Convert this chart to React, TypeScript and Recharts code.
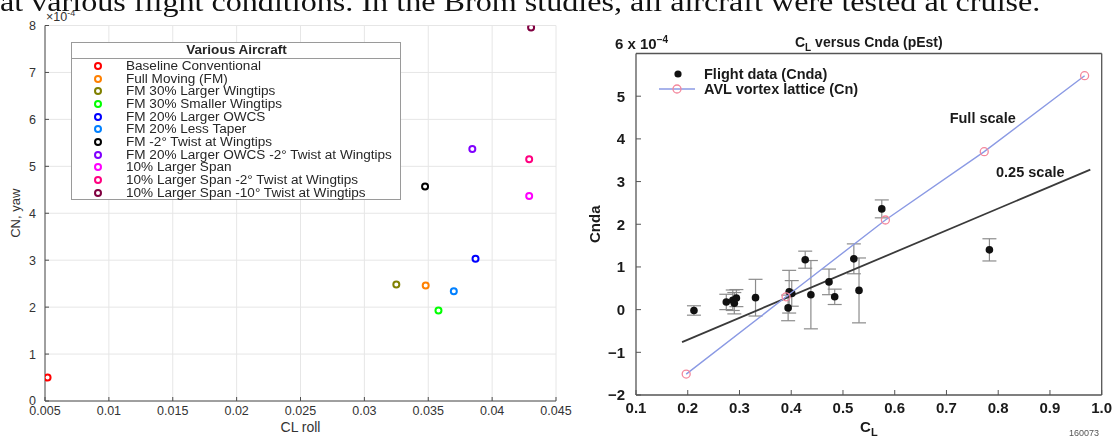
import React from "react";
import {
  CartesianGrid,
  ErrorBar,
  Legend,
  Scatter,
  ScatterChart,
  XAxis,
  YAxis,
} from "recharts";

const caption =
  "at various flight conditions. In the Brom studies, all aircraft were tested at cruise.";

// Left panel: roll vs yaw control power per configuration (CN in units of 1e-4)
const aircraftNames = [
  "Baseline Conventional",
  "Full Moving (FM)",
  "FM 30% Larger Wingtips",
  "FM 30% Smaller Wingtips",
  "FM 20% Larger OWCS",
  "FM 20% Less Taper",
  "FM -2° Twist at Wingtips",
  "FM 20% Larger OWCS -2° Twist at Wingtips",
  "10% Larger Span",
  "10% Larger Span -2° Twist at Wingtips",
  "10% Larger Span -10° Twist at Wingtips",
];
const clRoll = [0.0052, 0.0348, 0.0325, 0.0358, 0.0387, 0.037, 0.03475, 0.03845, 0.0429, 0.0429, 0.04305];
const cnYaw = [0.5, 2.46, 2.48, 1.93, 3.03, 2.34, 4.57, 5.37, 4.37, 5.15, 7.96];
const aircraftColors = [
  "#ff0000", "#ff8000", "#808000", "#00ff00", "#0000ff", "#0080ff",
  "#000000", "#8000ff", "#ff00ff", "#ff0080", "#800040",
];
const rollTicks = [0.005, 0.01, 0.015, 0.02, 0.025, 0.03, 0.035, 0.04, 0.045];
const yawTicks = [0, 1, 2, 3, 4, 5, 6, 7, 8];

// Right panel: CL versus Cnda (pEst), Cnda in units of 1e-4
const flightCL = [0.212, 0.2745, 0.287, 0.29, 0.294, 0.331, 0.394, 0.396, 0.401, 0.427, 0.438, 0.473, 0.484, 0.521, 0.531, 0.575, 0.783];
const flightCnda = [-0.02, 0.18, 0.22, 0.15, 0.27, 0.28, 0.04, 0.42, 0.38, 1.17, 0.35, 0.65, 0.3, 1.19, 0.45, 2.36, 1.4];
const flightErr = [0.11, 0.18, 0.24, 0.25, 0.2, 0.43, 0.3, 0.5, 0.3, 0.2, 0.8, 0.3, 0.18, 0.35, 0.76, 0.21, 0.26];
const avlCL = [0.197, 0.39, 0.582, 0.773, 0.967];
const avlCn = [-1.51, 0.3, 2.1, 3.7, 5.48];
const quarterCL = [0.189, 0.978];
const quarterCn = [-0.76, 3.28];
const noteCL = [0.77, 0.862];
const noteCn = [4.5, 3.22];
const noteText = ["Full scale", "0.25 scale"];
const clTicks = [0.1, 0.2, 0.3, 0.4, 0.5, 0.6, 0.7, 0.8, 0.9, 1.0];
const cndaTicks = [-2, -1, 0, 1, 2, 3, 4, 5, 6];
const flightLegendOrder = ["Flight data (Cnda)", "AVL vortex lattice (Cn)"];

const flightData = flightCL.map((x, i) => ({ x, y: flightCnda[i], err: flightErr[i] }));
const avlData = avlCL.map((x, i) => ({ x, y: avlCn[i] }));
const quarterData = quarterCL.map((x, i) => ({ x, y: quarterCn[i] }));
const noteData = noteCL.map((x, i) => ({ x, y: noteCn[i], label: noteText[i] }));

const SANS = '"Liberation Sans", Arial, Helvetica, sans-serif';
const MAT_TEXT = "#333";
const MAT_AXIS = "#4d4d4d";
const FRAME = "#555";

const ring = (color: string) => (p: any) => (
  <circle cx={p.cx} cy={p.cy} r={3} fill="#fff" stroke={color} strokeWidth={2} />
);

// keep legend rows in series order (recharts sorts by name otherwise)
const inOrder = (payload: any[] | undefined, order: string[]) =>
  order.map((name) => (payload || []).find((p: any) => p.value === name)).filter(Boolean);

const wide: React.CSSProperties = {
  display: "inline-block",
  transform: "scaleX(1.13)",
  transformOrigin: "left center",
};

const AircraftLegend = (props: any) => (
  <div
    style={{
      width: 330,
      height: 158,
      boxSizing: "border-box",
      border: "1px solid #9a9a9a",
      background: "#fff",
      fontFamily: SANS,
      fontSize: 12,
      color: "#262626",
    }}
  >
    <div
      style={{
        height: 15,
        lineHeight: "15px",
        textAlign: "center",
        fontWeight: 700,
        borderBottom: "1px solid #9a9a9a",
      }}
    >
      <span style={{ ...wide, transformOrigin: "center center" }}>Various Aircraft</span>
    </div>
    <div style={{ paddingTop: 1 }}>
      {inOrder(props.payload, aircraftNames).map((entry: any) => (
        <div
          key={entry.value}
          style={{ display: "flex", alignItems: "center", height: 12.7, whiteSpace: "nowrap" }}
        >
          <svg width={10} height={10} style={{ marginLeft: 20.5, marginRight: 23.5 }}>
            <circle cx={5} cy={5} r={3} fill="#fff" stroke={entry.color} strokeWidth={2} />
          </svg>
          <span style={wide}>{entry.value}</span>
        </div>
      ))}
    </div>
  </div>
);

const FlightLegend = (props: any) => (
  <div style={{ fontFamily: SANS, fontSize: 14.5, fontWeight: 700, color: "#1a1a1a" }}>
    {inOrder(props.payload, flightLegendOrder).map((entry: any) => (
      <div key={entry.value} style={{ display: "flex", alignItems: "center", height: 14.4 }}>
        <svg width={38} height={12} style={{ marginRight: 7 }}>
          {entry.type === "line" ? (
            <>
              <line x1={0} y1={6} x2={36} y2={6} stroke="#8b9ae4" strokeWidth={1.4} />
              <circle cx={18} cy={6} r={4} fill="none" stroke="#f4879c" strokeWidth={1.3} />
            </>
          ) : (
            <circle cx={19} cy={6} r={3.6} fill="#111" />
          )}
        </svg>
        <span>{entry.value}</span>
      </div>
    ))}
  </div>
);

const TitleLabel = (props: any) => {
  const vb = props.viewBox;
  return (
    <text x={vb.x + vb.width / 2} y={47} textAnchor="middle" fontSize={14} fontWeight={700} fill="#1a1a1a">
      <tspan>C</tspan>
      <tspan dy={4} fontSize={10}>L</tspan>
      <tspan dy={-4}>{"  versus Cnda (pEst)"}</tspan>
    </text>
  );
};

const ClLabel = (props: any) => {
  const vb = props.viewBox;
  return (
    <text x={vb.x + vb.width / 2} y={432} textAnchor="middle" fontSize={15} fontWeight={700} fill="#1a1a1a">
      <tspan>C</tspan>
      <tspan dy={4} fontSize={11}>L</tspan>
    </text>
  );
};

const noteShape = (p: any) => (
  <text x={p.cx} y={p.cy} textAnchor="middle" dominantBaseline="central" fontSize={14.5} fontWeight={700} fill="#1a1a1a">
    {p.payload.label}
  </text>
);

const cndaFormat = (v: number) => (v === 6 ? "" : v < 0 ? `\u2212${-v}` : String(v));

export default function App() {
  return (
    <div
      style={{
        position: "absolute",
        left: 0,
        top: 0,
        width: 1115,
        height: 437,
        overflow: "hidden",
        background: "#fff",
        fontFamily: SANS,
      }}
    >
      <div
        style={{
          position: "absolute",
          left: 0,
          top: -13,
          whiteSpace: "nowrap",
          fontFamily: '"Liberation Serif", "Times New Roman", serif',
          fontSize: 27,
          lineHeight: "30px",
          color: "#111",
          transform: "scaleX(1.19)",
          transformOrigin: "left top",
        }}
      >
        {caption}
      </div>

      {/* left: CL roll vs CN yaw */}
      <div style={{ position: "absolute", left: 0, top: 0 }}>
        <ScatterChart width={580} height={437} margin={{ top: 25.5, right: 24, bottom: 0, left: 0 }}>
          <CartesianGrid stroke="#e6e6e6" fill="none" />
          <XAxis
            type="number"
            dataKey="x"
            domain={[0.005, 0.045]}
            ticks={rollTicks}
            allowDataOverflow
            height={36}
            tickSize={-4}
            tickMargin={9}
            axisLine={{ stroke: MAT_AXIS }}
            tickLine={{ stroke: MAT_AXIS }}
            tick={{ fill: MAT_TEXT, fontSize: 12.5 }}
            tickFormatter={(v: number) => String(v)}
            label={{ value: "CL roll", position: "insideBottom", offset: 5, fill: MAT_TEXT, fontSize: 14 }}
          />
          <YAxis
            type="number"
            dataKey="y"
            domain={[0, 8]}
            ticks={yawTicks}
            allowDataOverflow
            width={45}
            tickSize={-4}
            tickMargin={13}
            axisLine={{ stroke: MAT_AXIS }}
            tickLine={{ stroke: MAT_AXIS }}
            tick={{ fill: MAT_TEXT, fontSize: 12.5 }}
            label={{
              value: "CN, yaw",
              angle: -90,
              position: "insideLeft",
              offset: 15,
              fill: MAT_TEXT,
              fontSize: 13,
              style: { textAnchor: "middle" },
            }}
          />
          <Legend
            layout="vertical"
            align="center"
            verticalAlign="middle"
            content={AircraftLegend}
            wrapperStyle={{ left: 71, top: 41.5, width: 330 }}
          />
          {aircraftNames.map((name, i) => (
            <Scatter
              key={name}
              name={name}
              data={[{ x: clRoll[i], y: cnYaw[i] }]}
              fill={aircraftColors[i]}
              shape={ring(aircraftColors[i])}
              isAnimationActive={false}
            />
          ))}
        </ScatterChart>
        <div style={{ position: "absolute", left: 46, top: 10, fontSize: 12.5, color: MAT_TEXT, lineHeight: "14px" }}>
          ×10<span style={{ fontSize: 9, position: "relative", top: -5 }}>-4</span>
        </div>
      </div>

      {/* right: CL versus Cnda */}
      <div style={{ position: "absolute", left: 580, top: 0, width: 535, height: 437, overflow: "hidden" }}>
        <div style={{ position: "absolute", left: -20, top: 0, filter: "blur(0.7px)" }}>
          <ScatterChart width={555} height={437} margin={{ top: 52.5, right: 12.3, bottom: 1, left: 0 }}>
            <XAxis
              xAxisId="b"
              type="number"
              dataKey="x"
              domain={[0.1, 1]}
              ticks={clTicks}
              allowDataOverflow
              height={41}
              tickSize={-5}
              tickMargin={12}
              axisLine={{ stroke: FRAME, strokeWidth: 1.3 }}
              tickLine={{ stroke: FRAME }}
              tick={{ fill: "#1a1a1a", fontSize: 15, fontWeight: 700 }}
              tickFormatter={(v: number) => v.toFixed(1)}
              label={<ClLabel />}
            />
            <XAxis
              xAxisId="t"
              orientation="top"
              type="number"
              dataKey="x"
              domain={[0.1, 1]}
              ticks={clTicks}
              allowDataOverflow
              height={1}
              tickSize={-5}
              tick={false}
              axisLine={{ stroke: FRAME, strokeWidth: 1.3 }}
              tickLine={{ stroke: FRAME }}
              label={<TitleLabel />}
            />
            <YAxis
              yAxisId="l"
              type="number"
              dataKey="y"
              domain={[-2, 6]}
              ticks={cndaTicks}
              allowDataOverflow
              width={76}
              tickSize={-5}
              tickMargin={16}
              axisLine={{ stroke: FRAME, strokeWidth: 1.3 }}
              tickLine={{ stroke: FRAME }}
              tick={{ fill: "#1a1a1a", fontSize: 15, fontWeight: 700 }}
              tickFormatter={cndaFormat}
              label={{
                value: "Cnda",
                angle: -90,
                position: "insideLeft",
                offset: 35,
                fill: "#1a1a1a",
                fontSize: 15,
                fontWeight: 700,
                style: { textAnchor: "middle" },
              }}
            />
            <YAxis
              yAxisId="r"
              orientation="right"
              type="number"
              dataKey="y"
              domain={[-2, 6]}
              ticks={cndaTicks}
              allowDataOverflow
              width={1}
              tickSize={-5}
              tick={false}
              axisLine={{ stroke: FRAME, strokeWidth: 1.3 }}
              tickLine={{ stroke: FRAME }}
            />
            <Legend
              layout="vertical"
              align="center"
              verticalAlign="middle"
              content={FlightLegend}
              wrapperStyle={{ left: 99, top: 67, width: 260 }}
            />
            <Scatter
              name="0.25 scale"
              xAxisId="b"
              yAxisId="l"
              data={quarterData}
              line={{ stroke: "#3a3a3a", strokeWidth: 1.8 }}
              shape={() => <g />}
              legendType="none"
              isAnimationActive={false}
            />
            <Scatter
              name="Flight data (Cnda)"
              xAxisId="b"
              yAxisId="l"
              data={flightData}
              fill="#111"
              legendType="circle"
              shape={(p: any) => <circle cx={p.cx} cy={p.cy} r={3.8} fill="#111" />}
              isAnimationActive={false}
            >
              <ErrorBar dataKey="err" direction="y" width={7} stroke="#8c8c8c" strokeWidth={1.2} />
            </Scatter>
            <Scatter
              name="AVL vortex lattice (Cn)"
              xAxisId="b"
              yAxisId="l"
              data={avlData}
              fill="#f4879c"
              legendType="line"
              line={{ stroke: "#8b9ae4", strokeWidth: 1.4 }}
              shape={(p: any) => (
                <circle cx={p.cx} cy={p.cy} r={4} fill="none" stroke="#f4879c" strokeWidth={1.3} />
              )}
              isAnimationActive={false}
            />
            <Scatter
              name="notes"
              xAxisId="t"
              yAxisId="r"
              data={noteData}
              legendType="none"
              shape={noteShape}
              isAnimationActive={false}
            />
          </ScatterChart>
          <div
            style={{
              position: "absolute",
              left: 55,
              top: 36,
              fontSize: 15,
              fontWeight: 700,
              color: "#1a1a1a",
              lineHeight: "16px",
              whiteSpace: "nowrap",
            }}
          >
            6 x 10<span style={{ fontSize: 10, position: "relative", top: -6 }}>{"\u22124"}</span>
          </div>
          <div style={{ position: "absolute", left: 509, top: 428, fontSize: 9, color: "#555" }}>160073</div>
        </div>
      </div>
    </div>
  );
}
